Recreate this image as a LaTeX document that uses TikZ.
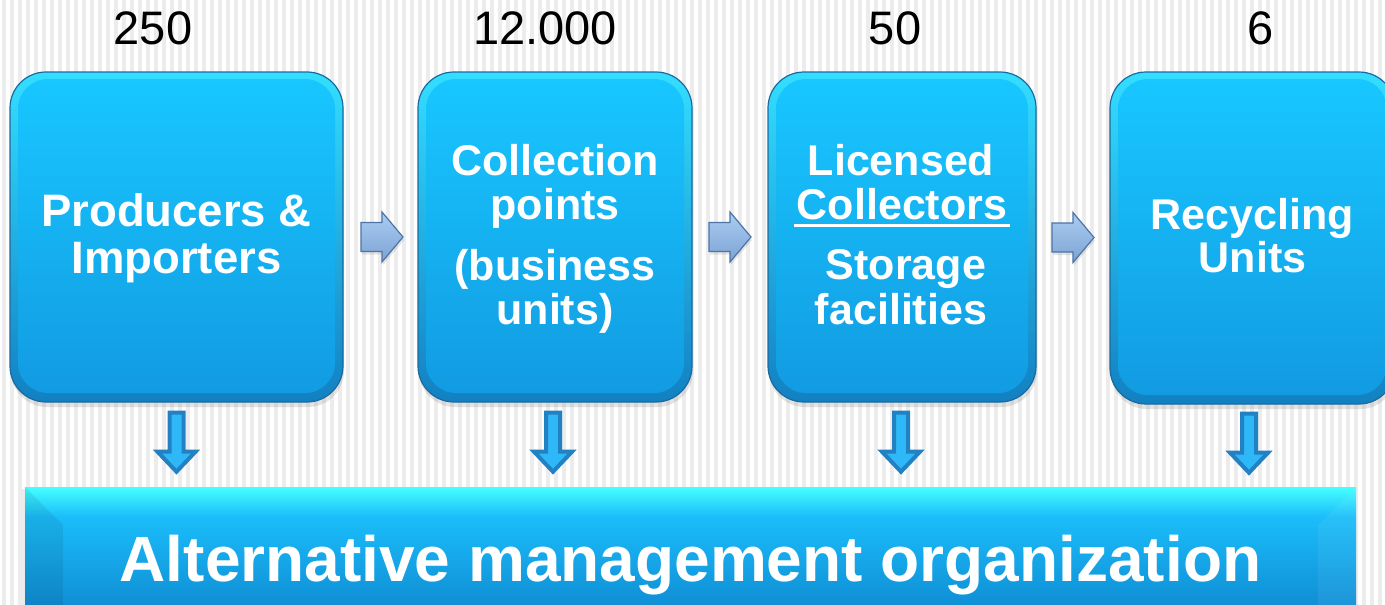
\documentclass[tikz,border=0pt]{standalone}
\usepackage{fontspec}
\setmainfont{Liberation Sans}
\usetikzlibrary{shadows,calc}
\definecolor{stripe}{HTML}{ECECEC}
\definecolor{boxline}{HTML}{1A6AA0}
\definecolor{ringtop}{HTML}{34DEFF}
\definecolor{ringbot}{HTML}{1280C2}
\definecolor{boxtop}{HTML}{18C7FF}
\definecolor{boxbot}{HTML}{129BE2}
\definecolor{bartop}{HTML}{45FFFF}
\definecolor{barmid}{HTML}{1BBDFA}
\definecolor{barbot}{HTML}{0F8CD4}
\definecolor{rarrtop}{HTML}{AACDF2}
\definecolor{rarrbot}{HTML}{7DA3D3}
\definecolor{rarrline}{HTML}{4D74A6}
\definecolor{darrfill}{HTML}{2FB8F7}
\definecolor{darrline}{HTML}{2281C2}
\pgfdeclareverticalshading{barshade}{100bp}{color(0bp)=(barbot); color(25bp)=(barbot); color(63bp)=(barmid); color(75bp)=(bartop); color(100bp)=(bartop)}
\tikzset{
  boxring/.style={rectangle, rounded corners=36pt, draw=boxline, line width=1.2pt,
    top color=ringtop, bottom color=ringbot, inner sep=0pt,
    drop shadow={shadow xshift=1pt, shadow yshift=-5pt, opacity=.22}},
  boxcore/.style={rectangle, rounded corners=30pt, top color=boxtop, bottom color=boxbot, inner sep=0pt},
  txt/.style={text=white, font=\fontsize{43}{46}\selectfont\bfseries, inner sep=0pt, anchor=base},
  bigtxt/.style={text=white, font=\fontsize{45.5}{48}\selectfont\bfseries, inner sep=0pt, anchor=base},
  num/.style={text=black, font=\fontsize{47}{50}\selectfont, inner sep=0pt, anchor=base},
  rarrstyle/.style={draw=rarrline, line width=1.2pt, line join=miter, top color=rarrtop, bottom color=rarrbot,
    drop shadow={shadow xshift=1pt, shadow yshift=-3pt, opacity=.2}},
  darrstyle/.style={draw=darrline, line width=4pt, line join=miter, fill=darrfill},
  rarrow/.pic={\path[rarrstyle] (-21,-14.5) -- (0,-14.5) -- (0,-25) -- (21,0) -- (0,25) -- (0,14.5) -- (-21,14.5) -- cycle;},
  darrow/.pic={\path[darrstyle] (-7,-30) -- (7,-30) -- (7,9) -- (19,9) -- (0,29) -- (-19,9) -- (-7,9) -- cycle;},
}
\begin{document}
\begin{tikzpicture}[x=1pt,y=-1pt]
\useasboundingbox (0,0) rectangle (1385,605);
\clip (0,0) rectangle (1385,605);
\fill[white] (0,0) rectangle (1385,605);
\foreach \i in {0,...,173} \fill[stripe] ({8*\i+2},0) rectangle ({8*\i+6},605);

% boxes
\node[boxring, minimum width=333pt, minimum height=330pt] (b1) at (176.5,237) {};
\node[boxring, minimum width=274pt, minimum height=330pt] (b2) at (555,237) {};
\node[boxring, minimum width=268pt, minimum height=330pt] (b3) at (902,237) {};
\node[boxring, minimum width=285pt, minimum height=332pt] (b4) at (1252.5,238) {};
\node[boxcore, minimum width=317pt, minimum height=314pt] (c1) at ($(b1.center)+(0,-1)$) {};
\node[boxcore, minimum width=258pt, minimum height=314pt] (c2) at ($(b2.center)+(0,-1)$) {};
\node[boxcore, minimum width=252pt, minimum height=314pt] (c3) at ($(b3.center)+(0,-1)$) {};
\node[boxcore, minimum width=269pt, minimum height=316pt] (c4) at ($(b4.center)+(0,-1)$) {};

% bottom bar
\node[rectangle, minimum width=1331pt, minimum height=123pt, inner sep=0pt, shading=barshade,
  drop shadow={shadow xshift=-3pt, shadow yshift=-2pt, opacity=.15}] (bar) at (690.5,548.5) {};
\fill[black, opacity=.07] (bar.north west) -- ++(38,38) -- ++(0,90) -- (bar.south west) -- cycle;
\fill[white, opacity=.06] (bar.north east) -- ++(-38,38) -- ++(0,90) -- (bar.south east) -- cycle;

% right arrows
\coordinate (r1) at ($(b1.east)!0.5!(b2.west)+(1.5,0)$);
\coordinate (r2) at ($(b2.east)!0.5!(b3.west)+(0,0)$);
\coordinate (r3) at ($(b3.east)!0.5!(b4.west)+(0,0)$);
\foreach \c in {r1,r2,r3} \pic at (\c) {rarrow};

% down arrows
\coordinate (d1) at ($(b1.south)!0.5!(b1.south |- bar.north)+(0,-2)$);
\coordinate (d2) at ($(b2.south)!0.5!(b2.south |- bar.north)+(-2,-2)$);
\coordinate (d3) at ($(b3.south)!0.5!(b3.south |- bar.north)+(-1,-2)$);
\coordinate (d4) at ($(b4.south)!0.5!(b4.south |- bar.north)+(-3.5,-2)$);
\foreach \c in {d1,d2,d3,d4} \pic at (\c) {darrow};

% numbers
\node[num] (n1) at (153,44) {250};
\node[num] (n2) at (545,44) {12.000};
\node[num] (n3) at (895,44) {50};
\node[num] (n4) at (1261,44) {6};

% box texts
\node[bigtxt] (t1a) at ($(b1.north)+(0,155)$) {Producers \&};
\node[bigtxt] (t1b) at ($(b1.north)+(0,202)$) {Importers};
\node[txt] (t2a) at ($(b2.north)+(0,104)$) {Collection};
\node[txt] (t2b) at ($(b2.north)+(0,148)$) {points};
\node[txt] (t2c) at ($(b2.north)+(0,209)$) {(business};
\node[txt] (t2d) at ($(b2.north)+(0,253)$) {units)};
\node[txt] (t3a) at ($(b3.north)+(-1,104)$) {Licensed};
\node[txt] (t3b) at ($(b3.north)+(0,148)$) {Collectors};
\draw[white, line width=3pt] ($(t3b.base west)+(-3,6)$) -- coordinate (ul) ($(t3b.base east)+(3,6)$);
\node[txt] (t3c) at ($(b3.north)+(4,208)$) {Storage};
\node[txt] (t3d) at ($(b3.north)+(-1,253)$) {facilities};
\node[txt] (t4a) at ($(b4.north)+(0,158)$) {Recycling};
\node[txt] (t4b) at ($(b4.north)+(0,201)$) {Units};

% bar text
\node[txt, font=\fontsize{64}{70}\selectfont\bfseries] (bt) at ($(bar.north)+(0,95)$) {Alternative management organization};
\end{tikzpicture}
\end{document}
